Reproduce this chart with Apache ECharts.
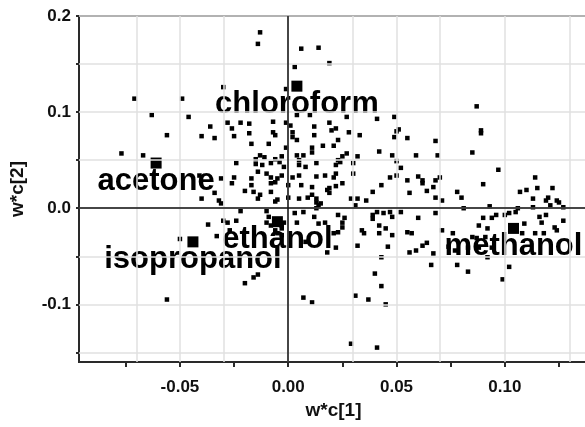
<!DOCTYPE html>
<html>
<head>
<meta charset="utf-8">
<script src="https://cdn.jsdelivr.net/npm/echarts@6/dist/echarts.min.js"></script>
<style>
  html, body { margin: 0; padding: 0; background: #fff; }
  #chart { width: 585px; height: 427px; }
</style>
</head>
<body>
<div id="chart"></div>
<script>
// loadings of the variables (small squares), [w*c[1], w*c[2]]
const variablePoints = [
  [-0.013,0.183],[-0.014,0.171],[0.006,0.166],[0.014,0.167],[0.019,0.151],[0.003,0.147],[-0.030,0.126],[-0.001,0.124],
  [-0.071,0.114],[-0.049,0.114],[0.087,0.106],
  [-0.063,0.097],[-0.046,0.095],[-0.036,0.085],[-0.056,0.076],[-0.040,0.075],[-0.034,0.073],[-0.028,0.089],[-0.026,0.083],
  [-0.025,0.075],[-0.022,0.089],[-0.018,0.088],[-0.018,0.078],[-0.017,0.067],[-0.007,0.090],[-0.007,0.079],[-0.006,0.076],
  [-0.001,0.089],[-0.009,0.067],[-0.001,0.063],[-0.077,0.057],[-0.067,0.055],[-0.013,0.055],[-0.011,0.053],[-0.015,0.051],
  [-0.006,0.051],[-0.003,0.054],[-0.024,0.047],
  [0.002,0.079],[0.002,0.074],[0.004,0.071],[0.001,0.086],[0.004,0.097],[0.010,0.097],[0.012,0.085],[0.012,0.076],
  [0.019,0.089],[0.020,0.081],[0.022,0.083],[0.027,0.095],[0.028,0.079],[0.033,0.076],[0.041,0.093],[0.049,0.095],
  [0.050,0.080],[0.051,0.082],[0.049,0.074],[0.055,0.073],[0.068,0.070],[0.089,0.081],[0.089,0.078],[0.016,0.065],
  [0.021,0.065],[0.023,0.071],[0.011,0.063],[0.011,0.058],[0.007,0.055],[0.004,0.055],[0.005,0.050],[0.027,0.057],
  [0.025,0.054],[0.032,0.054],[0.030,0.047],[0.042,0.059],[0.048,0.055],[0.050,0.049],[0.059,0.055],[0.069,0.055],
  [0.085,0.058],[0.023,0.050],[0.013,0.047],
  [-0.041,0.034],[-0.031,0.031],[-0.025,0.032],[-0.026,0.026],[-0.020,0.018],[-0.017,0.031],[-0.017,0.024],[-0.014,0.038],
  [-0.010,0.036],[-0.008,0.032],[-0.008,0.026],[-0.006,0.027],[-0.005,0.031],[-0.003,0.034],[-0.015,0.046],[-0.012,0.045],
  [-0.008,0.047],[-0.004,0.048],[-0.002,0.043],[-0.040,0.010],[-0.034,0.016],[-0.032,0.008],[-0.031,0.005],[-0.016,0.017],
  [-0.013,0.014],[-0.014,0.010],[-0.008,0.017],[-0.006,0.007],[-0.005,0.009],[0.000,0.024],[0.000,0.011],
  [0.002,0.032],[0.005,0.034],[0.006,0.024],[0.005,0.045],[0.008,0.043],[0.013,0.033],[0.017,0.034],[0.022,0.045],
  [0.024,0.048],[0.022,0.036],[0.021,0.032],[0.030,0.036],[0.025,0.026],[0.022,0.023],[0.019,0.021],[0.018,0.019],
  [0.019,0.016],[0.011,0.022],[0.009,0.011],[0.011,0.014],[0.013,0.010],[0.013,0.006],[0.015,0.005],[0.005,0.010],
  [0.029,0.010],[0.032,0.010],[0.031,0.003],[0.036,0.008],[0.039,0.017],[0.043,0.024],[0.047,0.032],[0.050,0.034],
  [0.052,0.042],[0.055,0.029],[0.056,0.016],[0.060,0.033],[0.062,0.029],[0.062,0.026],[0.068,0.029],[0.070,0.032],
  [0.067,0.022],[0.064,0.018],[0.068,0.011],[0.071,0.008],[0.078,0.017],[0.080,0.011],[0.081,0.000],[0.090,0.025],
  [0.093,0.002],[0.097,0.040],[0.107,0.017],[0.110,0.019],[0.113,0.010],[0.114,0.032],[0.115,0.021],[0.122,0.021],
  [0.120,0.011],[0.119,0.008],[0.124,0.008],[0.125,0.006],[0.127,0.001],[0.113,0.001],[0.106,0.000],[0.121,0.003],
  [-0.022,-0.003],[-0.010,-0.003],[-0.009,-0.009],[-0.010,-0.015],[-0.008,-0.018],[-0.003,-0.018],[-0.002,-0.015],
  [-0.003,-0.021],[-0.006,-0.023],[-0.005,-0.026],[-0.003,-0.028],[-0.037,-0.017],[-0.030,-0.013],[-0.028,-0.015],
  [-0.024,-0.013],[-0.033,-0.029],[-0.027,-0.023],[-0.050,-0.032],[-0.020,-0.078],[-0.016,-0.072],[-0.014,-0.069],
  [-0.056,-0.095],
  [0.003,-0.005],[0.004,-0.015],[0.007,-0.004],[0.013,0.000],[0.014,0.003],[0.012,-0.009],[0.014,-0.016],[0.017,-0.015],
  [0.021,-0.026],[0.008,-0.035],[0.018,-0.046],[0.023,-0.007],[0.025,-0.015],[0.026,-0.010],[0.023,-0.025],[0.025,-0.020],
  [0.022,-0.041],[0.032,-0.039],[0.034,-0.023],[0.035,-0.026],[0.039,-0.007],[0.039,-0.011],[0.041,-0.004],[0.044,-0.005],
  [0.042,-0.018],[0.042,-0.026],[0.045,-0.021],[0.048,-0.028],[0.046,-0.040],[0.043,-0.051],[0.040,-0.068],[0.043,-0.081],
  [0.037,-0.095],[0.045,-0.100],[0.031,-0.091],[0.007,-0.093],[0.011,-0.098],[0.029,-0.141],[0.041,-0.145],[0.047,-0.004],
  [0.052,-0.004],[0.048,-0.009],[0.055,-0.025],[0.057,-0.026],[0.060,-0.010],[0.056,-0.046],[0.059,-0.044],[0.062,-0.039],
  [0.064,-0.036],[0.068,-0.005],[0.071,-0.023],[0.067,-0.047],[0.066,-0.059],[0.078,-0.059],[0.083,-0.066],[0.074,-0.040],
  [0.077,-0.044],[0.076,-0.026],[0.090,-0.010],[0.092,-0.021],[0.088,-0.018],[0.094,-0.010],[0.096,-0.007],[0.100,-0.007],
  [0.102,-0.005],[0.105,-0.004],[0.108,-0.026],[0.114,-0.026],[0.118,-0.026],[0.116,-0.009],[0.119,-0.007],[0.127,-0.013],
  [0.123,-0.020],[0.124,-0.023],[0.109,-0.016],[0.117,-0.015],[0.092,-0.051],[0.102,-0.061],[0.099,-0.074],[0.085,-0.030],
  [0.087,-0.031],[0.091,-0.030],[0.094,-0.041],[0.088,-0.041],[0.083,-0.041]
];

// solvents (big squares)
const solventNames = ['chloroform', 'acetone', 'ethanol', 'isopropanol', 'methanol'];
const solventX = [0.004, -0.061, -0.005, -0.044, 0.104];
const solventY = [0.127, 0.047, -0.014, -0.035, -0.021];

// ticks
const xTickValues = [-0.075, -0.05, -0.025, 0, 0.025, 0.05, 0.075, 0.1, 0.125];
const xLabelValues = [-0.05, 0, 0.05, 0.1];
const yTickValues = [-0.15, -0.1, -0.05, 0, 0.05, 0.1, 0.15, 0.2];
const yLabelValues = [-0.1, 0, 0.1, 0.2];

const font = "'Liberation Sans', Arial, sans-serif";

// light grid lines at every tick, dark lines through the origin
const gridLines = xTickValues.map(v => ({ xAxis: v }))
  .concat(yTickValues.map(v => ({ yAxis: v })));

let chart = echarts.init(document.getElementById('chart'));
chart.setOption({
  animation: false,
  backgroundColor: '#fff',
  grid: {
    left: 79, right: -3, top: 16, bottom: 65,
    show: true, borderColor: '#2a2a2a', borderWidth: 2,
    outerBoundsMode: 'none'
  },
  xAxis: {
    type: 'value',
    min: -0.0966, max: 0.1384,
    name: 'w*c[1]',
    nameLocation: 'middle',
    nameGap: 37,
    nameTextStyle: { fontFamily: font, fontWeight: 'bold', fontSize: 19, color: '#111' },
    axisLine: { show: true, onZero: false, lineStyle: { color: '#2a2a2a', width: 2 } },
    axisTick: { show: true, inside: false, length: 5, customValues: xTickValues,
      lineStyle: { color: '#2a2a2a', width: 2 } },
    axisLabel: { customValues: xLabelValues, margin: 17,
      fontFamily: font, fontWeight: 'bold', fontSize: 17, color: '#111',
      formatter: v => v.toFixed(2) },
    splitLine: { show: false }
  },
  yAxis: {
    type: 'value',
    min: -0.16, max: 0.2,
    name: 'w*c[2]',
    nameLocation: 'middle',
    nameGap: 52,
    nameTextStyle: { fontFamily: font, fontWeight: 'bold', fontSize: 19, color: '#111' },
    axisLine: { show: true, onZero: false, lineStyle: { color: '#2a2a2a', width: 2 } },
    axisTick: { show: true, inside: false, length: 3, customValues: yTickValues,
      lineStyle: { color: '#2a2a2a', width: 2 } },
    axisLabel: { customValues: yLabelValues, margin: 8,
      fontFamily: font, fontWeight: 'bold', fontSize: 17, color: '#111',
      formatter: v => v.toFixed(1) },
    splitLine: { show: false }
  },
  series: [
    {
      name: 'grid',
      type: 'scatter',
      data: [],
      z: 1,
      markLine: {
        silent: true,
        symbol: ['none', 'none'],
        label: { show: false },
        lineStyle: { color: '#e0e0e0', type: 'solid', width: 1.5, opacity: 1 },
        emphasis: { disabled: true },
        data: gridLines
      }
    },
    {
      name: 'variables',
      type: 'scatter',
      symbol: 'rect',
      symbolSize: 4.5,
      itemStyle: { color: '#000', opacity: 1 },
      data: variablePoints,
      z: 3,
      markLine: {
        silent: true,
        symbol: ['none', 'none'],
        label: { show: false },
        lineStyle: { color: '#111', type: 'solid', width: 1.5, opacity: 1 },
        emphasis: { disabled: true },
        data: [{ xAxis: 0 }, { yAxis: 0 }]
      }
    },
    {
      name: 'solvents',
      type: 'scatter',
      symbol: 'rect',
      symbolSize: 11,
      itemStyle: { color: '#000', opacity: 1 },
      z: 4,
      label: {
        show: true,
        position: 'inside',
        offset: [0, 18],
        formatter: p => p.name,
        opacity: 1,
        fontFamily: font, fontWeight: 'bold', fontSize: 31, color: '#000'
      },
      data: solventNames.map((n, i) => ({ name: n, value: [solventX[i], solventY[i]] }))
    }
  ]
});
</script>
</body>
</html>
